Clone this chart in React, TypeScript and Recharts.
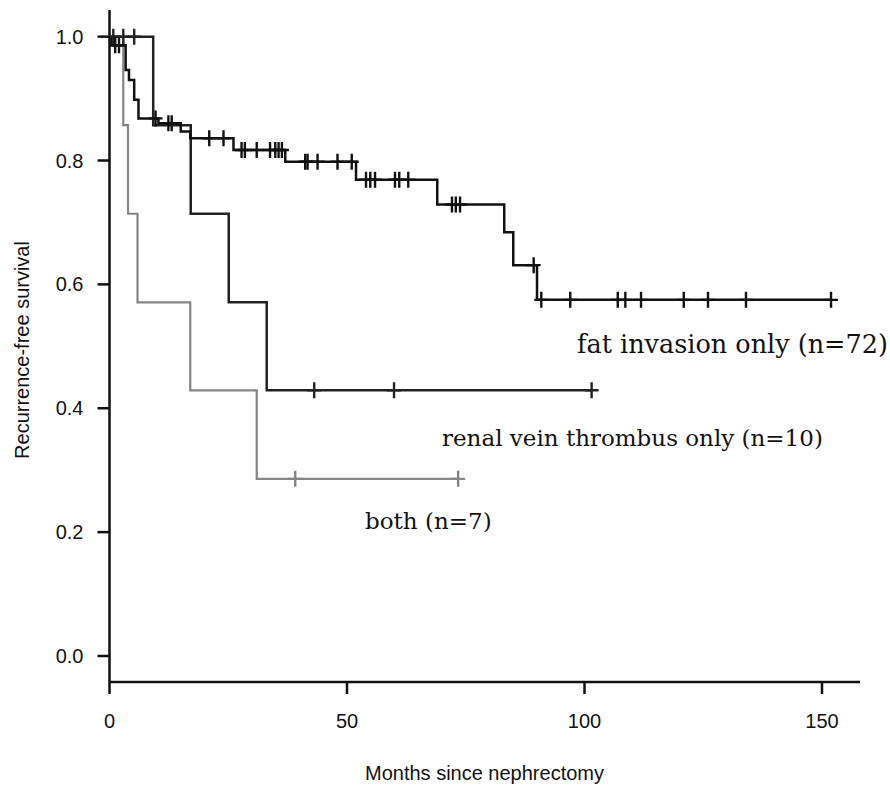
import { ComposedChart, Line, XAxis, YAxis } from 'recharts';

const xTicks = [0, 50, 100, 150];
const yTicks = [0, 0.2, 0.4, 0.6, 0.8, 1.0];

// [month, survival] where each level starts
const fatSteps = [
  [0, 1.0], [0.4, 0.986], [3.4, 0.946], [4.1, 0.93], [5.2, 0.898], [6.1, 0.868],
  [10.3, 0.86], [15.0, 0.847], [17.0, 0.836], [26.1, 0.817], [37.0, 0.798],
  [51.9, 0.769], [69.0, 0.729], [83.1, 0.684], [85.0, 0.631], [90.0, 0.575],
];
const fatCensored = [
  1.2, 2.0, 9.7, 12.4, 13.1, 21.0, 24.0, 27.8, 28.5, 31.0, 33.8, 34.9, 35.6, 36.3,
  41.2, 41.7, 43.8, 48.0, 51.0, 54.0, 54.9, 55.9, 60.1, 61.0, 62.9, 72.1, 72.9, 73.8,
  89.3, 90.9, 97.0, 107.0, 108.6, 111.9, 120.9, 126.0, 134.0, 151.9,
];

const renalSteps = [[0, 1.0], [9.2, 0.857], [17.1, 0.714], [25.1, 0.571], [33.1, 0.429]];
const renalCensored = [0.8, 2.9, 5.2, 43.1, 59.9, 101.5];

const bothSteps = [[0, 1.0], [2.9, 0.857], [3.9, 0.714], [5.9, 0.571], [17.0, 0.429], [31.0, 0.286]];
const bothCensored = [39.1, 73.4];

const buildCurve = (steps: number[][], censored: number[]) => {
  const pts = steps.map(([t, s]) => ({ t, s, c: false }));
  censored.forEach((t) => {
    let s = steps[0][1];
    steps.forEach(([st, sv]) => { if (st <= t) s = sv; });
    pts.push({ t, s, c: true });
  });
  return pts.sort((a, b) => a.t - b.t);
};

const fatData = buildCurve(fatSteps, fatCensored);
const renalData = buildCurve(renalSteps, renalCensored);
const bothData = buildCurve(bothSteps, bothCensored);

const censorMark = (color: string) => (props: any) => {
  const { cx, cy, payload, index } = props;
  if (!payload || !payload.c) return <g key={`n-${index}`} />;
  return (
    <path
      key={`c-${index}`}
      d={`M${cx - 7},${cy}H${cx + 7}M${cx},${cy - 8}V${cy + 8}`}
      stroke={color}
      strokeWidth={2.4}
      fill="none"
    />
  );
};

const sans = '"Liberation Sans", Arial, sans-serif';
const serif = '"DejaVu Serif", serif';
const tickStyle = { fill: '#111', fontSize: 20, fontFamily: sans };

export default function App() {
  return (
    <div style={{ position: 'relative', width: 890, height: 787, background: '#fff' }}>
      <style>{'body{margin:0}'}</style>
      <ComposedChart
        width={890}
        height={787}
        margin={{ top: 10, right: 30, bottom: 45, left: 49.5 }}
      >
        <XAxis
          dataKey="t"
          type="number"
          domain={[0, 158]}
          allowDataOverflow
          ticks={xTicks}
          interval={0}
          tickSize={12}
          tickMargin={20}
          height={60}
          stroke="#111"
          strokeWidth={2.5}
          tick={tickStyle}
        />
        <YAxis
          type="number"
          domain={[-0.042, 1.043]}
          allowDataOverflow
          ticks={yTicks}
          interval={0}
          tickSize={12}
          tickMargin={14}
          width={60}
          stroke="#111"
          strokeWidth={2.5}
          tick={tickStyle}
          tickFormatter={(v: number) => v.toFixed(1)}
        />
        <Line
          data={bothData}
          dataKey="s"
          type="stepAfter"
          stroke="#858585"
          strokeWidth={2.2}
          dot={censorMark('#858585')}
          activeDot={false}
          isAnimationActive={false}
        />
        <Line
          data={renalData}
          dataKey="s"
          type="stepAfter"
          stroke="#222"
          strokeWidth={2.5}
          dot={censorMark('#222')}
          activeDot={false}
          isAnimationActive={false}
        />
        <Line
          data={fatData}
          dataKey="s"
          type="stepAfter"
          stroke="#111"
          strokeWidth={2.5}
          dot={censorMark('#111')}
          activeDot={false}
          isAnimationActive={false}
        />
      </ComposedChart>
      <svg
        width={890}
        height={787}
        style={{ position: 'absolute', left: 0, top: 0, pointerEvents: 'none' }}
      >
        <text x={577} y={353} fontFamily={serif} fontSize={25.5} fill="#111">
          fat invasion only (n=72)
        </text>
        <text x={442} y={446} fontFamily={serif} fontSize={23} fill="#111">
          renal vein thrombus only (n=10)
        </text>
        <text x={365} y={529} fontFamily={serif} fontSize={23} fill="#111">
          both (n=7)
        </text>
        <text x={484.5} y={780} textAnchor="middle" fontFamily={sans} fontSize={20} fill="#111">
          Months since nephrectomy
        </text>
        <text
          x={29}
          y={350}
          textAnchor="middle"
          transform="rotate(-90 29 350)"
          fontFamily={sans}
          fontSize={20}
          fill="#111"
        >
          Recurrence-free survival
        </text>
      </svg>
    </div>
  );
}
